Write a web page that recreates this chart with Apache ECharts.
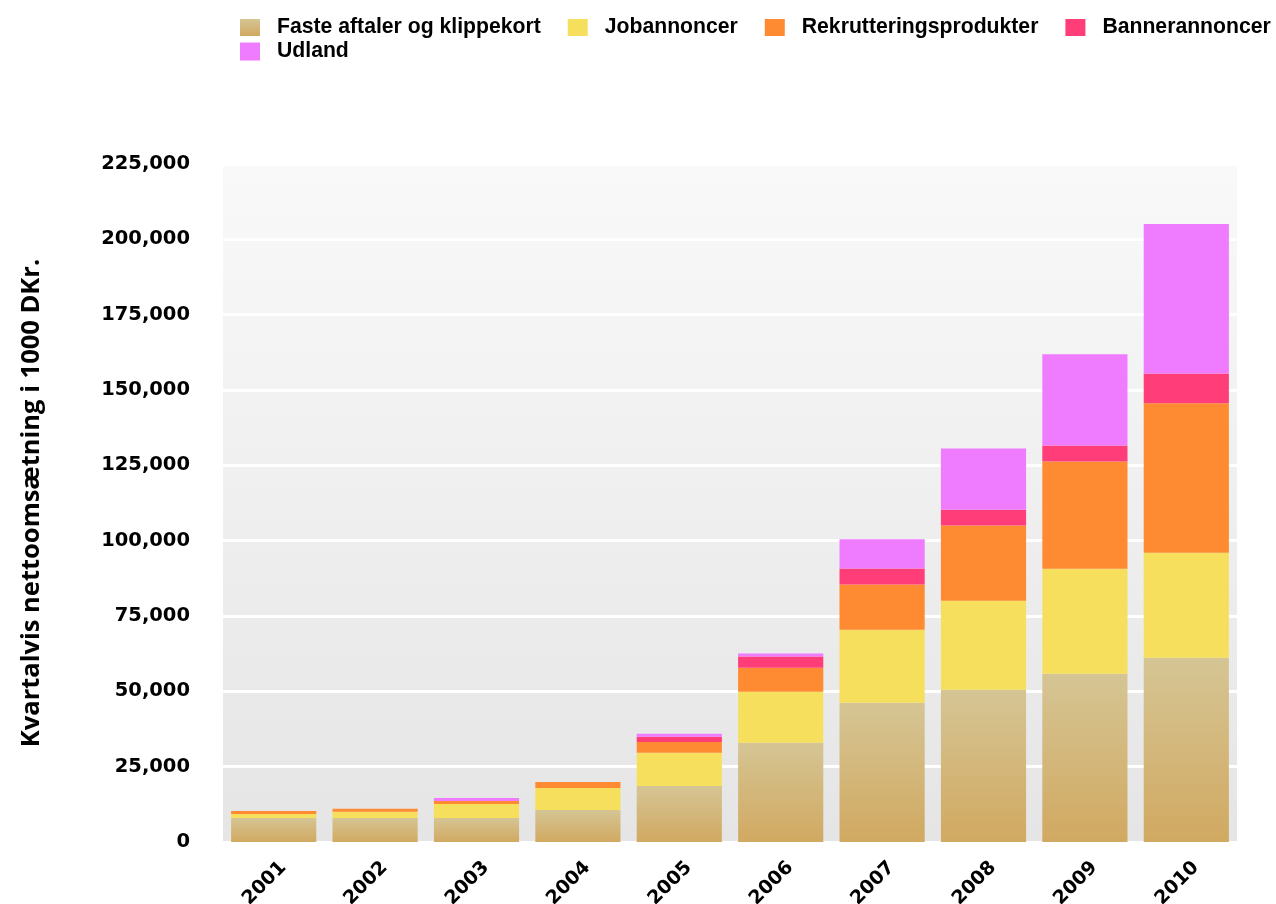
<!DOCTYPE html>
<html>
<head>
<meta charset="utf-8">
<script src="https://cdn.jsdelivr.net/npm/echarts@6/dist/echarts.min.js"></script>
<style>html,body{margin:0;padding:0;background:#fff}#c{width:1276px;height:904px}</style>
</head>
<body>
<div id="c"></div>
<script>
const years = ['2001','2002','2003','2004','2005','2006','2007','2008','2009','2010'];
const seriesNames = ['Faste aftaler og klippekort','Jobannoncer','Rekrutteringsprodukter','Bannerannoncer','Udland'];
const faste   = [8000, 8000, 8000, 10600, 18600, 32900, 46200, 50500, 55800, 61150];
const jobs    = [1300, 2000, 4600, 7300, 11000, 17000, 24250, 29600, 34900, 34850];
const rekrut  = [1000, 1000, 1000, 2000, 3600, 7950, 15000, 24900, 35600, 49600];
const banner  = [0, 0, 0, 0, 1700, 3700, 5300, 5300, 5300, 9900];
const udland  = [0, 0, 1000, 0, 1000, 1000, 9700, 20300, 30250, 49550];
const yTicks = [0, 25000, 50000, 75000, 100000, 125000, 150000, 175000, 200000, 225000];

const G = echarts.graphic.LinearGradient;
const colors = [
  new G(0,0,0,1,[{offset:0,color:'#d5c594'},{offset:1,color:'#d1a961'}]),
  '#f7df5e', '#fe8a31', '#ff3d78', '#ef7bff'
];
const dataSets = [faste, jobs, rekrut, banner, udland];

const chart = echarts.init(document.getElementById('c'), null, {renderer:'canvas'});
const legendText = {fontFamily:'Liberation Sans', fontWeight:'bold', fontSize:21.2, color:'#000', padding:[0,0,0,12]};
chart.setOption({
  animation:false,
  legend:[
    {data:seriesNames.slice(0,4), left:235, top:12, itemWidth:20, itemHeight:17, itemGap:27, icon:'rect', textStyle:legendText, selectedMode:false},
    {data:seriesNames.slice(4), left:235, top:36, itemWidth:20, itemHeight:18, itemGap:27, icon:'rect', textStyle:legendText, selectedMode:false}
  ],
  grid:{left:223, right:39, top:164, bottom:62, show:true, borderWidth:0, containLabel:false, outerBoundsMode:'none',
    backgroundColor:new G(0,0,0,1,[{offset:0,color:'#f9f9f9'},{offset:1,color:'#e5e5e5'}])},
  xAxis:{type:'category', data:years,
    axisLine:{show:false}, axisTick:{show:false},
    axisLabel:{rotate:45, interval:0, margin:13, verticalAlign:'top', padding:[4,0,0,0],
      fontFamily:'DejaVu Sans', fontWeight:'bold', fontSize:19, color:'#000'}},
  yAxis:{type:'value', min:0, max:225000, interval:25000,
    name:'Kvartalvis nettoomsætning i 1000 DKr.', nameLocation:'middle', nameGap:178,
    nameTextStyle:{fontFamily:'Open Sans', fontWeight:'bold', fontSize:25.5, color:'#000'},
    axisLine:{show:false}, axisTick:{show:false},
    axisLabel:{margin:33, fontFamily:'DejaVu Sans', fontWeight:'bold', fontSize:19.5, color:'#000',
      formatter:v=>v.toLocaleString('en-US')},
    splitLine:{show:true, lineStyle:{color:'#ffffff', width:3}}},
  series: seriesNames.map((n,i)=>({
    name:n, type:'bar', stack:'total', data:dataSets[i], barCategoryGap:'16%',
    itemStyle:{color:colors[i]}, emphasis:{disabled:true}
  }))
});
</script>
</body>
</html>
